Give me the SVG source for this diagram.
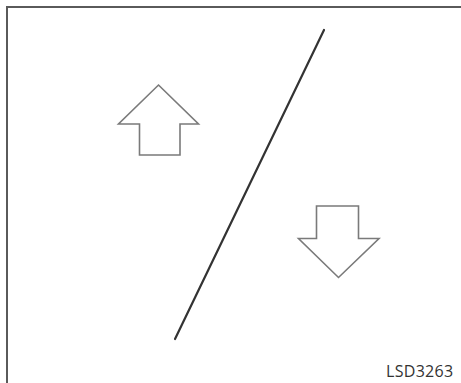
<svg xmlns="http://www.w3.org/2000/svg" width="461" height="383" viewBox="0 0 461 383">
<style>
.frame{fill:none;stroke:#5a5a5a;stroke-width:2}
.arrow{fill:#fff;stroke:#7a7a7a;stroke-width:1.6;stroke-linejoin:miter}
.line{stroke:#333;stroke-width:2.2;stroke-linecap:round}
.label{font-family:"Open Sans","Liberation Sans",sans-serif;font-size:16px;fill:#333;letter-spacing:0.3px}
</style>
<rect width="461" height="383" fill="#fff"/>
<path class="frame" d="M7,390 V7 H470"/>
<g id="connectors">
<line class="line" x1="324" y1="30" x2="175" y2="339"/>
</g>
<g id="arrow-up">
<path class="arrow" d="M158.5,85 L198.5,124 H180 V155 H139.5 V124 H118.5 Z"/>
</g>
<g id="arrow-down">
<path class="arrow" d="M316.5,206 H358.5 V238.5 H379 L338.5,277.5 L298.5,238.5 H316.5 Z"/>
</g>
<text class="label" x="386" y="377">LSD3263</text>
</svg>
